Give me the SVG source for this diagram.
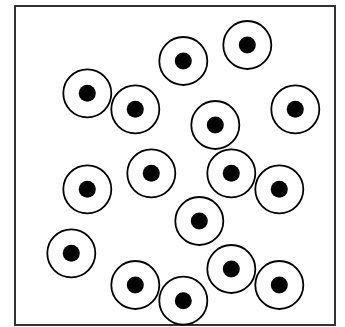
<svg xmlns="http://www.w3.org/2000/svg" width="345" height="327" viewBox="0 0 345 327">
<style>
.o{fill:#fff;stroke:#000;stroke-width:1.8}
.d{fill:#000}
.b{fill:#fff;stroke:#333;stroke-width:2}
</style>
<defs>
<g id="cell"><circle class="o" r="24"/><circle class="d" r="8.5"/></g>
</defs>
<rect class="b" x="15" y="6" width="320" height="319"/>
<g id="c1"><use href="#cell" x="183.3" y="61"/></g>
<g id="c2"><use href="#cell" x="247.3" y="45"/></g>
<g id="c3"><use href="#cell" x="87.3" y="93.3"/></g>
<g id="c4"><use href="#cell" x="135.3" y="109.3"/></g>
<g id="c5"><use href="#cell" x="215.3" y="125"/></g>
<g id="c6"><use href="#cell" x="295.3" y="109.3"/></g>
<g id="c7"><use href="#cell" x="87.3" y="189.3"/></g>
<g id="c8"><use href="#cell" x="151.3" y="173.3"/></g>
<g id="c9"><use href="#cell" x="231.3" y="173.3"/></g>
<g id="c10"><use href="#cell" x="279.3" y="189.3"/></g>
<g id="c11"><use href="#cell" x="199.3" y="221"/></g>
<g id="c12"><use href="#cell" x="71.3" y="253.3"/></g>
<g id="c13"><use href="#cell" x="135.3" y="285"/></g>
<g id="c14"><use href="#cell" x="231.3" y="269"/></g>
<g id="c15"><use href="#cell" x="279.3" y="285"/></g>
<g id="c16"><use href="#cell" x="183.3" y="300.7"/></g>
</svg>
